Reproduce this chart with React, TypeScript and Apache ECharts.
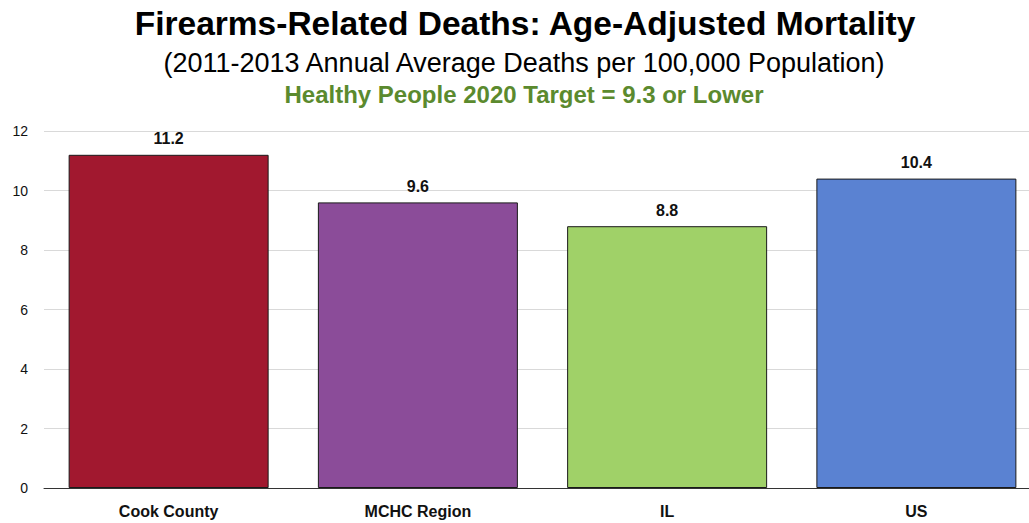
import React, { useEffect, useRef } from "react";
import * as echarts from "echarts";

const categories = ["Cook County", "MCHC Region", "IL", "US"];
const values = [11.2, 9.6, 8.8, 10.4];
const barColors = ["#A1182F", "#8B4C99", "#A0D168", "#5A82D2"];
const yTicks = [0, 2, 4, 6, 8, 10, 12];

const FONT = "Liberation Sans, Arial, sans-serif";

export default function App() {
  const ref = useRef<HTMLDivElement>(null);
  useEffect(() => {
    if (!ref.current) return;
    const chart = echarts.init(ref.current, undefined, { renderer: "svg" });
    chart.setOption({
      animation: false,
      title: [
        {
          text: "Firearms-Related Deaths: Age-Adjusted Mortality",
          left: 520,
          textAlign: "center",
          top: 1,
          textStyle: { fontFamily: FONT, fontWeight: "bold", fontSize: 33.5, color: "#000" },
        },
        {
          text: "(2011-2013 Annual Average Deaths per 100,000 Population)",
          left: 519,
          textAlign: "center",
          top: 44,
          textStyle: { fontFamily: FONT, fontWeight: "normal", fontSize: 27, color: "#000" },
        },
        {
          text: "Healthy People 2020 Target = 9.3 or Lower",
          left: 519,
          textAlign: "center",
          top: 77,
          textStyle: { fontFamily: FONT, fontWeight: "bold", fontSize: 24, color: "#5B8A2E" },
        },
      ],
      grid: { left: 44, top: 131, width: 997, height: 357, containLabel: false },
      xAxis: {
        type: "category",
        data: categories,
        axisTick: { show: false },
        axisLine: { lineStyle: { color: "#333", width: 1 } },
        axisLabel: {
          margin: 15,
          fontFamily: FONT,
          fontWeight: "bold",
          fontSize: 16,
          color: "#111",
        },
      },
      yAxis: {
        type: "value",
        min: yTicks[0],
        max: yTicks[yTicks.length - 1],
        interval: 2,
        axisLine: { show: false },
        axisTick: { show: false },
        splitLine: { lineStyle: { color: "#D9D9D9", width: 1 } },
        axisLabel: {
          margin: 16,
          fontFamily: FONT,
          fontSize: 14,
          color: "#111",
        },
      },
      series: [
        {
          type: "bar",
          barWidth: 200,
          data: values.map((v, i) => ({
            value: v,
            itemStyle: { color: barColors[i], borderColor: "#1a1a1a", borderWidth: 1 },
          })),
          label: {
            show: true,
            position: "top",
            distance: 8,
            fontFamily: FONT,
            fontWeight: "bold",
            fontSize: 16,
            color: "#111",
            formatter: (p: any) => p.value.toFixed(1),
          },
        },
      ],
    });
    return () => chart.dispose();
  }, []);
  return (
    <div
      style={{ position: "absolute", left: 0, top: 0, width: 1029, height: 523, overflow: "hidden", background: "#fff" }}
    >
      <div ref={ref} style={{ width: 1041, height: 523 }} />
    </div>
  );
}
